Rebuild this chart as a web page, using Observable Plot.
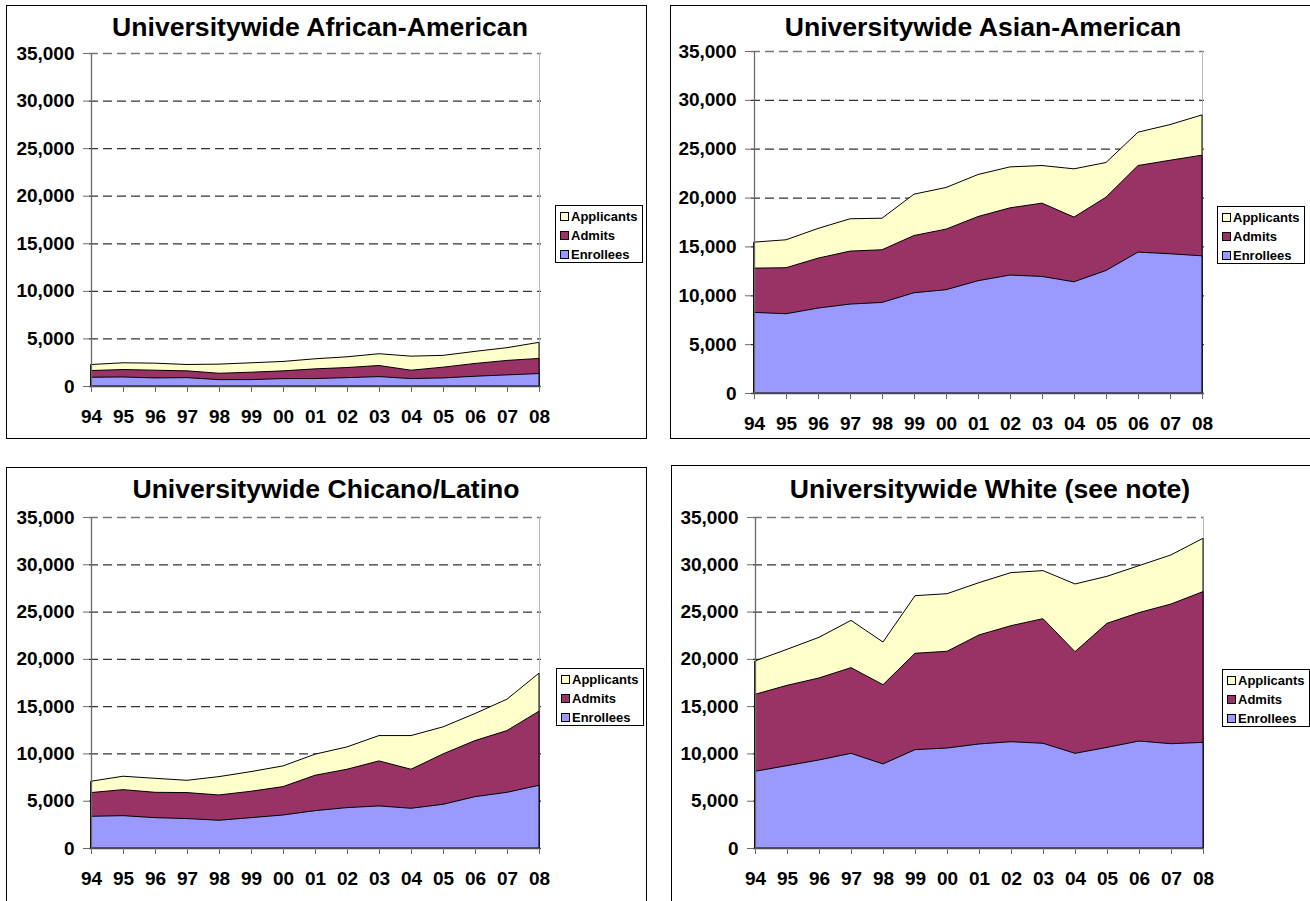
<!DOCTYPE html>
<html>
<head>
<meta charset="utf-8">
<script src="https://cdn.jsdelivr.net/npm/d3@7"></script>
<script src="https://cdn.jsdelivr.net/npm/@observablehq/plot@0.6"></script>
<style>
  html, body { margin: 0; padding: 0; background: #fff; }
  #page { position: relative; width: 1310px; height: 901px; overflow: hidden; font-family: Arial, "Liberation Sans", sans-serif; }
  .panel { position: absolute; border: 1.5px solid #000; box-sizing: border-box; background: #fff; }
  .chart { position: absolute; }
  .title { position: absolute; width: 640px; text-align: center; font-weight: bold; font-size: 26.6px; line-height: 26px; color: #000; white-space: nowrap; }
  .legend { position: absolute; border: 1px solid #000; box-sizing: border-box; background: #fff; padding: 1px 0 0 4px; }
  .legend .row { display: flex; align-items: center; height: 19px; font-weight: bold; font-size: 13px; color: #000; white-space: nowrap; }
  .legend .sw { width: 9px; height: 9px; border: 1px solid #000; margin-right: 2px; box-sizing: border-box; }
</style>
</head>
<body>
<div id="page"></div>
<script>
// ---- data ----
const years = ["94","95","96","97","98","99","00","01","02","03","04","05","06","07","08"];
const yTicks = [0, 5000, 10000, 15000, 20000, 25000, 30000, 35000];
const seriesNames = ["Applicants", "Admits", "Enrollees"];
const seriesColors = ["#FFFFCC", "#993366", "#9999FF"];

const titles = [
  "Universitywide African-American",
  "Universitywide Asian-American",
  "Universitywide Chicano/Latino",
  "Universitywide White (see note)"
];

const afApplicants = [2260, 2440, 2400, 2260, 2300, 2440, 2580, 2860, 3070, 3390, 3140, 3220, 3640, 4030, 4590];
const afAdmits     = [1625, 1730, 1660, 1590, 1340, 1450, 1590, 1800, 1940, 2155, 1660, 1980, 2370, 2690, 2900];
const afEnrollees  = [920, 950, 850, 880, 670, 670, 780, 780, 880, 990, 780, 850, 1025, 1170, 1310];

const asApplicants = [15440, 15680, 16840, 17830, 17890, 20350, 21030, 22360, 23140, 23280, 22940, 23590, 26690, 27470, 28460];
const asAdmits     = [12780, 12820, 13800, 14520, 14660, 16120, 16770, 18060, 18950, 19430, 18000, 20040, 23280, 23820, 24340];
const asEnrollees  = [8250, 8110, 8690, 9100, 9270, 10260, 10570, 11490, 12070, 11930, 11380, 12540, 14420, 14250, 14040];

const clApplicants = [7060, 7590, 7370, 7160, 7550, 8080, 8680, 9920, 10690, 11890, 11890, 12810, 14220, 15740, 18490];
const clAdmits     = [5860, 6170, 5890, 5860, 5610, 6000, 6490, 7690, 8330, 9210, 8330, 9950, 11360, 12420, 14470];
const clEnrollees  = [3350, 3420, 3210, 3110, 2930, 3210, 3490, 3950, 4270, 4450, 4200, 4620, 5430, 5890, 6630];

const whApplicants = [19780, 21010, 22280, 24070, 21780, 26680, 26890, 28060, 29120, 29330, 27920, 28730, 29860, 30990, 32750];
const whAdmits     = [16250, 17200, 17980, 19070, 17270, 20590, 20800, 22530, 23510, 24250, 20760, 23760, 24890, 25800, 27110];
const whEnrollees  = [8110, 8710, 9310, 10010, 8890, 10400, 10570, 11000, 11240, 11070, 10010, 10640, 11310, 11030, 11170];

const panelSeries = [
  [afApplicants, afAdmits, afEnrollees],
  [asApplicants, asAdmits, asEnrollees],
  [clApplicants, clAdmits, clEnrollees],
  [whApplicants, whAdmits, whEnrollees]
];

// ---- layout (page pixels) ----
const layout = [
  {L: 6,   T: 5,   W: 641, H: 434, px0: 89,  px1: 541,  py0: 53,  py1: 386, tx: 320, tTop: 14,  lg: [555, 205, 88, 58]},
  {L: 670, T: 5,   W: 650, H: 434, px0: 751, px1: 1204, py0: 51,  py1: 393, tx: 983, tTop: 14,  lg: [1217, 206, 88, 58]},
  {L: 6,   T: 467, W: 641, H: 440, px0: 89,  px1: 541,  py0: 517, py1: 848, tx: 326, tTop: 476, lg: [556, 668, 88, 58]},
  {L: 671, T: 465, W: 650, H: 442, px0: 753, px1: 1204, py0: 517, py1: 848, tx: 990, tTop: 476, lg: [1222, 669, 88, 58]}
];

const page = document.getElementById("page");

layout.forEach((g, i) => {
  const border = document.createElement("div");
  border.className = "panel";
  Object.assign(border.style, {left: g.L + "px", top: g.T + "px", width: g.W + "px", height: g.H + "px"});
  page.appendChild(border);

  const svgW = Math.min(g.W, 1310 - g.L);
  const svgH = Math.min(g.H, 901 - g.T);
  const [app, adm, enr] = panelSeries[i];
  const rows = [];
  [app, adm, enr].forEach((vals, s) => {
    vals.forEach((v, k) => rows.push({year: years[k], series: seriesNames[s], value: v}));
  });

  const chart = Plot.plot({
    width: svgW,
    height: svgH,
    marginLeft: g.px0 - g.L,
    marginRight: svgW - (g.px1 - g.L),
    marginTop: g.py0 - g.T,
    marginBottom: svgH - (g.py1 - g.T),
    style: {fontFamily: "Arial, 'Liberation Sans', sans-serif", background: "transparent", overflow: "visible"},
    x: {type: "point", domain: years, padding: 0},
    y: {domain: [0, 35000]},
    marks: [
      Plot.ruleY(yTicks.filter(t => t > 0 && t < 35000), {stroke: "#333", strokeWidth: 1.3, strokeDasharray: "9,5"}),
      Plot.ruleY([35000], {stroke: "#777", strokeWidth: 1.3, strokeDasharray: "9,5"}),
      Plot.ruleX(["08"], {y1: 0, y2: 35000, stroke: "#b8b8b8", strokeWidth: 1}),
      ...seriesNames.map((name, s) =>
        Plot.areaY(rows.filter(r => r.series === name), {
          x: "year", y: "value", fill: seriesColors[s], stroke: "#000", strokeWidth: 1, strokeLinejoin: "round"
        })
      ),
      Plot.ruleX(["94"], {y1: 0, y2: 35000, stroke: "#6a6a6a", strokeWidth: 1.3}),
      Plot.ruleY([0], {stroke: "#4a4a4a", strokeWidth: 1.3}),
      Plot.axisY(yTicks, {
        tickSize: 6, tickPadding: 9, tickFormat: d3.format(","), stroke: "#6a6a6a", fill: "#000",
        fontSize: 19, fontWeight: "bold", label: null
      }),
      Plot.axisX(years, {
        tickSize: 6, tickPadding: 17, stroke: "#6a6a6a", fill: "#000",
        fontSize: 19, fontWeight: "bold", label: null
      })
    ]
  });
  chart.classList.add("chart");
  Object.assign(chart.style, {left: g.L + "px", top: g.T + "px"});
  page.appendChild(chart);

  const title = document.createElement("div");
  title.className = "title";
  title.textContent = titles[i];
  Object.assign(title.style, {left: (g.tx - 320) + "px", top: g.tTop + "px"});
  page.appendChild(title);

  const lg = document.createElement("div");
  lg.className = "legend";
  Object.assign(lg.style, {left: g.lg[0] + "px", top: g.lg[1] + "px", width: g.lg[2] + "px", height: g.lg[3] + "px"});
  seriesNames.forEach((name, s) => {
    const row = document.createElement("div");
    row.className = "row";
    const sw = document.createElement("div");
    sw.className = "sw";
    sw.style.background = seriesColors[s];
    const tx = document.createElement("span");
    tx.textContent = name;
    row.appendChild(sw);
    row.appendChild(tx);
    lg.appendChild(row);
  });
  page.appendChild(lg);
});
</script>
</body>
</html>
